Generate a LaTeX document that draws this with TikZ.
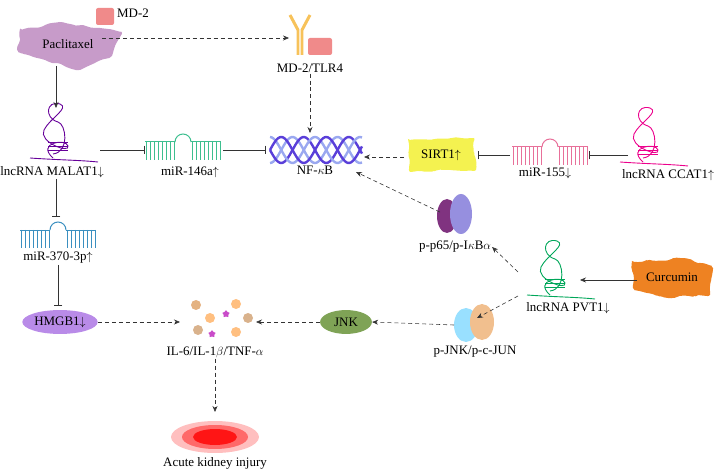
\documentclass[tikz,border=0pt]{standalone}
\usepackage{fontspec}
\setmainfont{Liberation Serif}
\usetikzlibrary{arrows.meta,shapes.geometric,decorations.pathmorphing}
\definecolor{pacl}{HTML}{C79BC9}
\definecolor{mdpink}{HTML}{F08A8A}
\definecolor{tlr}{HTML}{F7C25A}
\definecolor{mirgreen}{HTML}{3DBF8F}
\definecolor{mirpink}{HTML}{E8709A}
\definecolor{mirblue}{HTML}{3A8FC0}
\definecolor{nfdark}{HTML}{5A3FD9}
\definecolor{nflight}{HTML}{9AA8F0}
\definecolor{sirt}{HTML}{F4F250}
\definecolor{curc}{HTML}{EE8222}
\definecolor{jnkg}{HTML}{7FA356}
\definecolor{hmg}{HTML}{B98BE8}
\tikzset{
  lbl/.style={font=\fontsize{13}{15}\selectfont, inner sep=1pt},
  act/.style={-{Stealth[length=6pt,width=5pt]}, line width=0.6pt, draw=black!80},
  dact/.style={act, dash pattern=on 4pt off 3pt},
  inh/.style={-{Bar[width=9pt]}, line width=0.6pt, draw=black!80},
  blob/.style={decorate, decoration={random steps,segment length=5pt,amplitude=1.6pt}, rounded corners=2pt},
  comb/.style={line width=1pt}
}
% hairpin miRNA icon at (#1) in colour #2
\newcommand{\hairpin}[2]{%
  \begin{scope}[shift={(#1)}, comb]
    \draw[#2] (-38,-8) -- (-8,-8); \draw[#2] (8,-8) -- (38,-8);
    \foreach \i in {-37,-33,...,-9} \draw[#2] (\i,-8) -- (\i,10);
    \foreach \i in {9,13,...,37} \draw[#2] (\i,-8) -- (\i,10);
    \draw[#2] (-8,-8) arc (180:360:8);
  \end{scope}}
% coiled lncRNA icon at (#1) in colour #2
\newcommand{\lncrna}[2]{%
  \begin{scope}[shift={(#1)}, line width=0.9pt]
    \draw[#2] (-28,10) .. controls (0,12) and (20,12) .. (40,14);
    \draw[#2] (-5,10) .. controls (-22,-5) and (8,-10) .. (10,-2)
      .. controls (12,6) and (-20,-6) .. (-14,-18)
      .. controls (-8,-30) and (12,-40) .. (2,-44)
      .. controls (-12,-48) and (-14,-30) .. (0,-26)
      .. controls (8,-24) and (12,4) .. (-5,6);
    \foreach \k in {-6,-2,2} \draw[#2] (-10,\k) -- (10,\k);
  \end{scope}}
\begin{document}
\begin{tikzpicture}[x=1bp,y=-1bp]
\useasboundingbox (0,0) rectangle (721,473);
% shapes
\fill[pacl, blob] (20,30) -- (60,22) -- (100,28) -- (122,32) -- (112,56) -- (80,70) -- (45,60) -- (18,52) -- cycle;
\node[lbl] (pac) at (68,44) {Paclitaxel};
\fill[mdpink, rounded corners=2pt] (96,8) rectangle (114,25);
\node[lbl, anchor=west] (md2) at (116,13) {MD-2};
\draw[tlr, line width=3pt] (290,15) -- (298,30) -- (298,55) (310,15) -- (302,30) -- (302,55);
\fill[mdpink, rounded corners=2pt] (308,38) rectangle (332,55);
\coordinate (tlrin) at (289,38);
\coordinate (pace) at (102,38);
\coordinate (pacs) at (56,66);
\node[lbl] (tlr4) at (310,68) {MD-2/TLR4};
\lncrna{58,148}{violet!80!blue}
\coordinate (malin) at (56,108);
\coordinate (malout) at (100,150);
\node[lbl] (malat) at (52,172) {lncRNA MALAT1$\downarrow$};
\hairpin{183,150}{mirgreen}
\coordinate (m146l) at (145,150); \coordinate (m146r) at (223,150);
\node[lbl] (m146) at (190,172) {miR-146a$\uparrow$};
\foreach \s in {0,180} {
  \draw[nflight, line width=2.4pt, domain=270:362, samples=60] plot (\x, {150+13*sin(8*(\x-270)+\s+90)});
  \draw[nfdark, line width=2.4pt, domain=270:362, samples=60] plot (\x, {150+13*sin(8*(\x-270)+\s)});
}
\node[lbl] (nfkb) at (315,170) {NF-$\kappa$B};
\coordinate (nfl) at (266,150); \coordinate (nfr) at (364,157);
\coordinate (nft) at (310,133); \coordinate (nfbr) at (356,172);
\fill[sirt, blob] (408,140) -- (474,138) -- (476,170) -- (410,172) -- cycle;
\node[lbl] (sirt1) at (441,155) {SIRT1$\uparrow$};
\coordinate (sirtl) at (404,157); \coordinate (sirtr) at (478,155);
\hairpin{550,155}{mirpink}
\node[lbl] (m155) at (545,173) {miR-155$\downarrow$};
\lncrna{648,152}{magenta}
\node[lbl] (ccat) at (668,175) {lncRNA CCAT1$\uparrow$};
\fill[violet!60!gray] (447,216) ellipse (10 and 17);
\fill[nflight!85!violet] (461,214) ellipse (11 and 20);
\node[lbl] (p65) at (455,247) {p-p65/p-I$\kappa$B$\alpha$};
\fill[curc, blob] (632,262) -- (680,258) -- (712,266) -- (710,295) -- (668,298) -- (634,290) -- cycle;
\node[lbl] (curcumin) at (672,277) {Curcumin};
\lncrna{555,285}{teal!70!green}
\node[lbl] (pvt) at (568,308) {lncRNA PVT1$\downarrow$};
\coordinate (pvtr) at (580,280);
\fill[blue!30!cyan!40] (466,325) ellipse (12 and 17);
\fill[brown!45!orange!50] (482,322) ellipse (12 and 18);
\node[lbl] (pjnk) at (475,352) {p-JNK/p-c-JUN};
\node[ellipse, fill=jnkg, lbl, minimum width=52pt, minimum height=24pt] (jnk) at (346,322) {JNK};
\foreach \a/\b/\c in {196/305/brown!70!orange!60, 210/318/orange!50, 198/330/brown!60, 236/304/orange!50, 236/332/orange!50, 248/318/brown!60}
  \fill[\c] (\a,\b) circle (5);
\node[star, star points=5, fill=violet!60!magenta!70, inner sep=1.8pt] at (226,314) {};
\node[star, star points=5, fill=violet!60!magenta!70, inner sep=1.8pt] at (212,334) {};
\coordinate (ill) at (180,322); \coordinate (ilr) at (256,322);
\node[lbl] (il) at (215,352) {IL-6/IL-1$\beta$/TNF-$\alpha$};
\hairpin{58,238}{mirblue}
\node[lbl] (m370) at (58,258) {miR-370-3p$\uparrow$};
\node[ellipse, fill=hmg, lbl, minimum width=70pt, minimum height=24pt] (hmgb) at (60,322) {HMGB1$\downarrow$};
\coordinate (hmgt) at (58,306);
\foreach \r/\o in {1/0.25, 0.75/0.45, 0.5/0.8}
  \fill[red, opacity=\o] (215,437) ellipse ({44*\r} and {16*\r});
\node[lbl] (aki) at (215,463) {Acute kidney injury};
% connectors
\draw[act] (pacs) -- (malin);
\draw[dact] (pace) -- (tlrin);
\draw[dact] (tlr4.south) -- (nft);
\draw[inh] (malout) -- (m146l);
\draw[inh] (m146r) -- (nfl);
\draw[dact] (sirtl) -- (nfr);
\draw[inh] (510,155) coordinate (m155l) -- (sirtr);
\draw[inh] (628,155) coordinate (ccl) -- (589,155);
\draw[inh] (malat.south) ++(4,0) coordinate (mals) -- (56,217);
\draw[inh] (m370.south) ++(0,0) coordinate (m370s) -- (hmgt);
\draw[dact] (hmgb.east) -- (ill);
\draw[dact] (jnk.west) -- (ilr);
\draw[dact] (454,325) coordinate (pjl) -- (jnk.east);
\draw[act] (curcumin.west) ++(-8,3) coordinate (cw) -- (pvtr);
\draw[dact] (518,272) coordinate (pvtu) -- (p65.east);
\draw[dact] (518,296) coordinate (pvtd) -- (477,318);
\draw[dact] (p65.north) ++(-15,-28) coordinate (p65n) -- (nfbr);
\draw[dact] (il.south) -- (215,412);
\end{tikzpicture}
\end{document}
